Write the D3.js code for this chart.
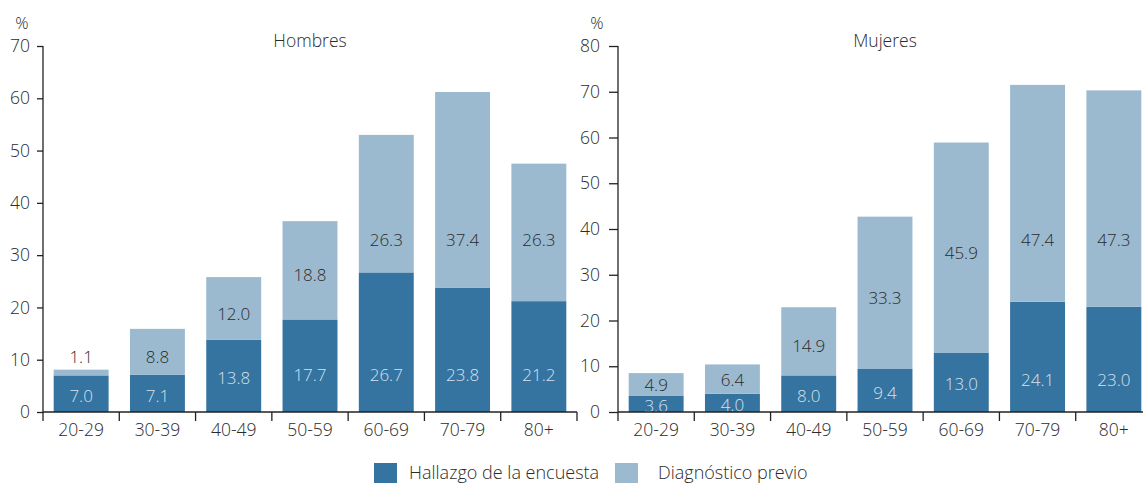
<!DOCTYPE html>
<html>
<head>
<meta charset="utf-8">
<script src="https://cdn.jsdelivr.net/npm/d3@7"></script>
<style>
  body { margin: 0; background: #fff; }
  svg text { font-family: "Open Sans", "Noto Sans", sans-serif; font-weight: 300; fill: #2b2b2b; }
  .barLabel.inDark { fill: #d6e2ec; }
</style>
</head>
<body>
<div id="chart"></div>
<script>
var ageGroups = ["20-29", "30-39", "40-49", "50-59", "60-69", "70-79", "80+"];
var seriesNames = ["Hallazgo de la encuesta", "Diagnóstico previo"];

var hombresEncuesta = [7.0, 7.1, 13.8, 17.7, 26.7, 23.8, 21.2];
var hombresPrevio = [1.1, 8.8, 12.0, 18.8, 26.3, 37.4, 26.3];
var mujeresEncuesta = [3.6, 4.0, 8.0, 9.4, 13.0, 24.1, 23.0];
var mujeresPrevio = [4.9, 6.4, 14.9, 33.3, 45.9, 47.4, 47.3];

var hombresTicks = [0, 10, 20, 30, 40, 50, 60, 70];
var mujeresTicks = [0, 10, 20, 30, 40, 50, 60, 70, 80];

var chartObject = {
    width: 1143,
    height: 483,
    colorDark: "#3573a0",
    colorLight: "#9bbad0",
    baseY: 412,
    topY: 46,
    svg: null,
    drawPanel: null,
    drawLegend: null
};

chartObject.drawPanel = function(title, left, right, maxVal, ticks, tickLen, dark, light) {
    var y = d3.scaleLinear().domain([0, maxVal]).range([chartObject.baseY, chartObject.topY]);
    var x = d3.scaleBand().domain(ageGroups).range([left, right]).paddingInner(0.28).paddingOuter(0.14);
    var g = chartObject.svg.append("g");

    // y axis
    var yAxis = g.append("g")
        .attr("transform", "translate(" + left + ",0)")
        .call(d3.axisLeft(y).tickValues(ticks).tickSize(tickLen).tickSizeOuter(0).tickPadding(tickLen > 6 ? 9 : 7));
    yAxis.select(".domain").remove();
    yAxis.selectAll("line").attr("stroke", "#222").attr("stroke-width", 1.3);
    yAxis.selectAll("text").style("font-size", "17.5px").attr("fill", "#2b2b2b");
    g.append("line")
        .attr("x1", left).attr("x2", left)
        .attr("y1", chartObject.topY).attr("y2", chartObject.baseY + 9)
        .attr("stroke", "#222").attr("stroke-width", 1.3);

    g.append("text")
        .attr("x", left - 21).attr("y", 29)
        .attr("text-anchor", "middle")
        .style("font-size", "16.5px")
        .text("%");

    g.append("text")
        .attr("x", (left + right) / 2).attr("y", 47)
        .attr("text-anchor", "middle")
        .style("font-size", "17.5px")
        .text(title);

    // stacked bars
    var rows = ageGroups.map(function(a, i) { return { age: a, dark: dark[i], light: light[i] }; });

    g.selectAll("rect.dark").data(rows).enter().append("rect")
        .attr("class", "dark")
        .attr("x", function(d) { return x(d.age); })
        .attr("width", x.bandwidth())
        .attr("y", function(d) { return y(d.dark); })
        .attr("height", function(d) { return y(0) - y(d.dark); })
        .attr("fill", chartObject.colorDark);

    g.selectAll("rect.light").data(rows).enter().append("rect")
        .attr("class", "light")
        .attr("x", function(d) { return x(d.age); })
        .attr("width", x.bandwidth())
        .attr("y", function(d) { return y(d.dark + d.light); })
        .attr("height", function(d) { return y(d.dark) - y(d.dark + d.light); })
        .attr("fill", chartObject.colorLight);

    // labels in dark part sit low in tall bars
    g.selectAll("text.inDark").data(rows).enter().append("text")
        .attr("class", "barLabel inDark")
        .attr("x", function(d) { return x(d.age) + x.bandwidth() / 2; })
        .attr("y", function(d) { return y(Math.min(d.dark / 2, 7.5)) + 2; })
        .attr("dy", "0.36em")
        .attr("text-anchor", "middle")
        .style("font-size", "17px")
        .text(function(d) { return d.dark.toFixed(1); });

    g.selectAll("text.inLight").data(rows).enter().append("text")
        .attr("class", "barLabel inLight")
        .attr("x", function(d) { return x(d.age) + x.bandwidth() / 2; })
        .attr("y", function(d) {
            if (y(d.dark) - y(d.dark + d.light) < 14) return y(d.dark + d.light) - 13;
            var mid = y(d.dark + d.light / 2) + (d.light < 8 ? 1 : 5);
            return Math.max(mid, 240);
        })
        .attr("dy", "0.36em")
        .attr("text-anchor", "middle")
        .style("font-size", "17px")
        .text(function(d) { return d.light.toFixed(1); });

    // x axis with ticks between bands
    g.append("line")
        .attr("x1", left).attr("x2", right)
        .attr("y1", chartObject.baseY).attr("y2", chartObject.baseY)
        .attr("stroke", "#222").attr("stroke-width", 1.3);
    var step = x.step();
    g.selectAll("line.sep").data(d3.range(1, ageGroups.length + 1)).enter().append("line")
        .attr("class", "sep")
        .attr("x1", function(i) { return left + i * step; })
        .attr("x2", function(i) { return left + i * step; })
        .attr("y1", chartObject.baseY).attr("y2", chartObject.baseY + 9)
        .attr("stroke", "#222").attr("stroke-width", 1.3);
    g.selectAll("text.cat").data(ageGroups).enter().append("text")
        .attr("class", "cat")
        .attr("x", function(d) { return x(d) + x.bandwidth() / 2; })
        .attr("y", 436)
        .attr("text-anchor", "middle")
        .style("font-size", "17.5px")
        .text(function(d) { return d; });
};

chartObject.drawLegend = function() {
    var items = [
        { name: seriesNames[0], color: chartObject.colorDark, x: 374 },
        { name: seriesNames[1], color: chartObject.colorLight, x: 615 }
    ];
    var lg = chartObject.svg.append("g");
    var it = lg.selectAll("g").data(items).enter().append("g")
        .attr("transform", function(d) { return "translate(" + d.x + ",463)"; });
    it.append("rect").attr("width", 23).attr("height", 22).attr("fill", function(d) { return d.color; });
    it.append("text")
        .attr("x", function(d, i) { return i == 0 ? 35 : 43; })
        .attr("y", 16)
        .style("font-size", "18px")
        .text(function(d) { return d.name; });
};

chartObject.svg = d3.select("#chart").append("svg")
    .attr("width", chartObject.width)
    .attr("height", chartObject.height);

chartObject.drawPanel("Hombres", 43, 577, 70, hombresTicks, 6, hombresEncuesta, hombresPrevio);
chartObject.drawPanel("Mujeres", 618, 1152, 80, mujeresTicks, 9, mujeresEncuesta, mujeresPrevio);
chartObject.drawLegend();
</script>
</body>
</html>
